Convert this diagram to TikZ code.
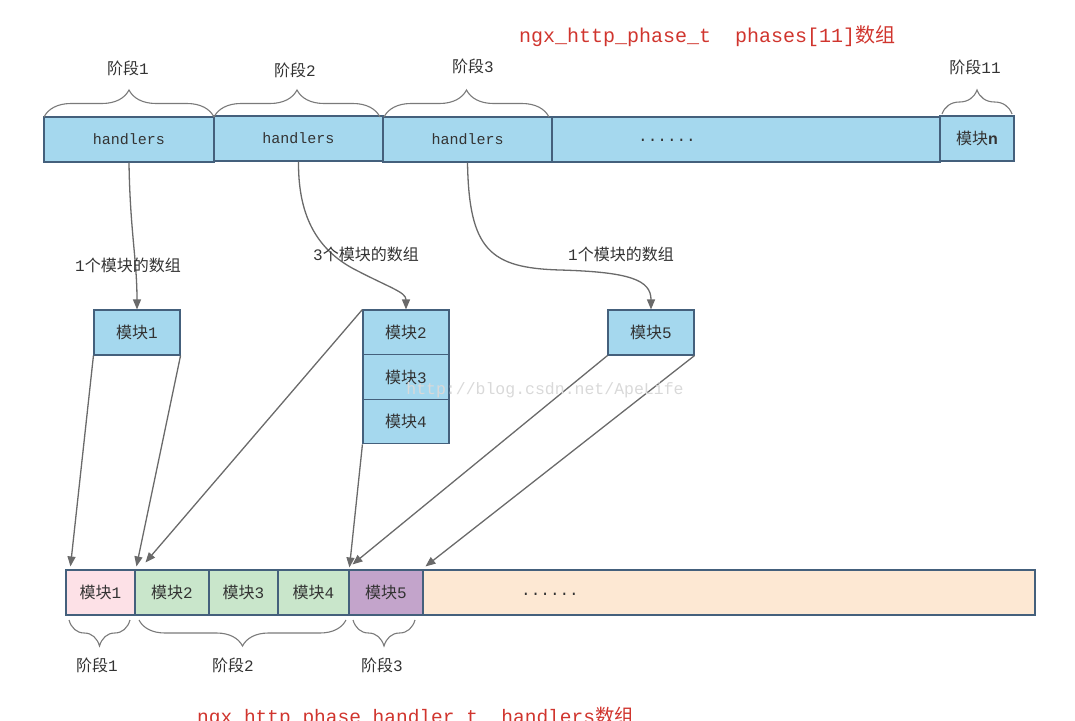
\documentclass[tikz,border=0pt]{standalone}
\usepackage{fontspec}
\setmainfont{Liberation Mono}
\newfontfamily\cjk{Noto Sans CJK SC}
\newfontfamily\sansb{Liberation Sans}
\usetikzlibrary{arrows.meta,decorations.pathreplacing,calc}
\newcommand\zh[1]{{\cjk #1}}
\definecolor{boxblue}{HTML}{A5D8EE}
\definecolor{boxline}{HTML}{44607C}
\definecolor{cpink}{HTML}{FDE1E7}
\definecolor{cgreen}{HTML}{C9E6CB}
\definecolor{cpurple}{HTML}{C3A4CB}
\definecolor{cpeach}{HTML}{FDE8D3}
\definecolor{linec}{HTML}{6A6A6A}
\definecolor{bracec}{HTML}{7A7A7A}
\definecolor{titred}{HTML}{D0352E}
\definecolor{textc}{HTML}{333333}
\begin{document}
\begin{tikzpicture}[x=1pt,y=-1pt,
  cell/.style={draw=boxline, line width=1.1pt, minimum height=45pt, inner sep=0pt,
    font=\fontsize{16}{16}\selectfont, text=textc},
  bluecell/.style={cell, fill=boxblue},
  conn/.style={draw=linec, line width=1.3pt, -{Triangle[length=10pt,width=8pt]}},
  brc/.style={draw=bracec, line width=1.1pt, decorate, decoration={brace, amplitude=#1}},
  lab/.style={font=\fontsize{16}{16}\selectfont, text=textc, inner sep=1pt},
  title/.style={font=\fontsize{20}{20}\selectfont, text=titred, anchor=base west, inner sep=0pt}]
\useasboundingbox (0,0) rectangle (1075,720);
\clip (0,0) rectangle (1075,720);

% titles
\node[title] (t1) at (519,42) {ngx\_http\_phase\_t\ \ phases[11]\zh{数组}};
\node[title, font=\fontsize{19.5}{20}\selectfont] (t2) at (197,723) {ngx\_http\_phase\_handler\_t\ \ handlers\zh{数组}};

% top array
\node[bluecell, minimum width=170pt, font=\fontsize{15}{15}\selectfont] (h1) at (129,139.5) {handlers};
\node[bluecell, minimum width=169pt, font=\fontsize{15}{15}\selectfont] (h3) at (467.5,139.5) {handlers};
\node[bluecell, minimum width=388pt] (hd) at (746,139.5) {};
\node[lab] (hdt) at (667,140) {......};
\node[bluecell, minimum width=169pt, font=\fontsize{15}{15}\selectfont] (h2) at (298.5,138.5) {handlers};
\node[bluecell, minimum width=74pt] (hn) at (977,138.5) {\zh{模块}{\sansb\bfseries n}};

% top braces
\draw[brc=27pt] (44,117) -- (214,117);
\draw[brc=27pt] (214,117) -- (380,117);
\draw[brc=27pt] (384,117) -- (549,117);
\draw[brc=24pt] (942,114) -- (1012,114);
\node[lab] (s1) at (128,68) {\zh{阶段}1};
\node[lab] (s2) at (295,70) {\zh{阶段}2};
\node[lab] (s3) at (473,66) {\zh{阶段}3};
\node[lab] (s11) at (975,67) {\zh{阶段}11};

% middle modules
\node[bluecell, minimum width=86pt] (m1) at (137,332.5) {\zh{模块}1};
\node[bluecell, minimum width=86pt] (m2) at (406,332.5) {\zh{模块}2};
\node[bluecell, minimum width=86pt, minimum height=44.5pt] (m3) at (406,377) {\zh{模块}3};
\node[bluecell, minimum width=86pt, minimum height=44.5pt] (m4) at (406,421.5) {\zh{模块}4};
\node[bluecell, minimum width=86pt] (m5) at (651,332.5) {\zh{模块}5};

% curved connectors
\draw[conn] (h1.south) .. controls (130,230) and (137,260) .. (m1.north);
\draw[conn] (h2.south) .. controls (298,220) and (320,250) .. (352,268)
  .. controls (390,288) and (406,292) .. (m2.north);
\draw[conn] (h3.south) .. controls (469,250) and (490,268) .. (560,270)
  .. controls (630,272) and (651,280) .. (m5.north);
\node[lab] (l1) at (128,265) {1\zh{个模块的数组}};
\node[lab] (l2) at (366,254) {3\zh{个模块的数组}};
\node[lab] (l3) at (621,254) {1\zh{个模块的数组}};

% bottom array
\node[cell, fill=cpink, minimum width=69pt] (b1) at (100.5,592.5) {\zh{模块}1};
\node[cell, fill=cgreen, minimum width=74pt] (b2) at (172,592.5) {\zh{模块}2};
\node[cell, fill=cgreen, minimum width=69pt] (b3) at (243.5,592.5) {\zh{模块}3};
\node[cell, fill=cgreen, minimum width=71pt] (b4) at (313.5,592.5) {\zh{模块}4};
\node[cell, fill=cpurple, minimum width=74pt] (b5) at (386,592.5) {\zh{模块}5};
\node[cell, fill=cpeach, minimum width=612pt] (bd) at (729,592.5) {};
\node[lab] (bdt) at (550,594) {......};

% straight connectors
\draw[conn] (m1.south west) -- ($(b1.north west)+(5,-3)$);
\draw[conn] (m1.south east) -- ($(b2.north west)+(2,-3)$);
\draw[conn] (m2.north west) -- ($(b2.north west)+(11,-7)$);
\draw[conn] (m4.south west) -- ($(b5.north west)+(1,-2)$);
\draw[conn] (m5.south west) -- ($(b5.north west)+(4,-5)$);
\draw[conn] (m5.south east) -- ($(bd.north west)+(3,-3)$);

% bottom braces
\draw[brc=26pt] (130,620) -- (69,620);
\draw[brc=26pt] (346,620) -- (139,620);
\draw[brc=26pt] (415,620) -- (353,620);
\node[lab] (u1) at (97,665) {\zh{阶段}1};
\node[lab] (u2) at (233,665) {\zh{阶段}2};
\node[lab] (u3) at (382,665) {\zh{阶段}3};

% watermark
\node[font=\fontsize{16.5}{16.5}\selectfont, text=gray!30, inner sep=0pt] (wm) at (545,390) {http://blog.csdn.net/ApeLife};
\end{tikzpicture}
\end{document}
